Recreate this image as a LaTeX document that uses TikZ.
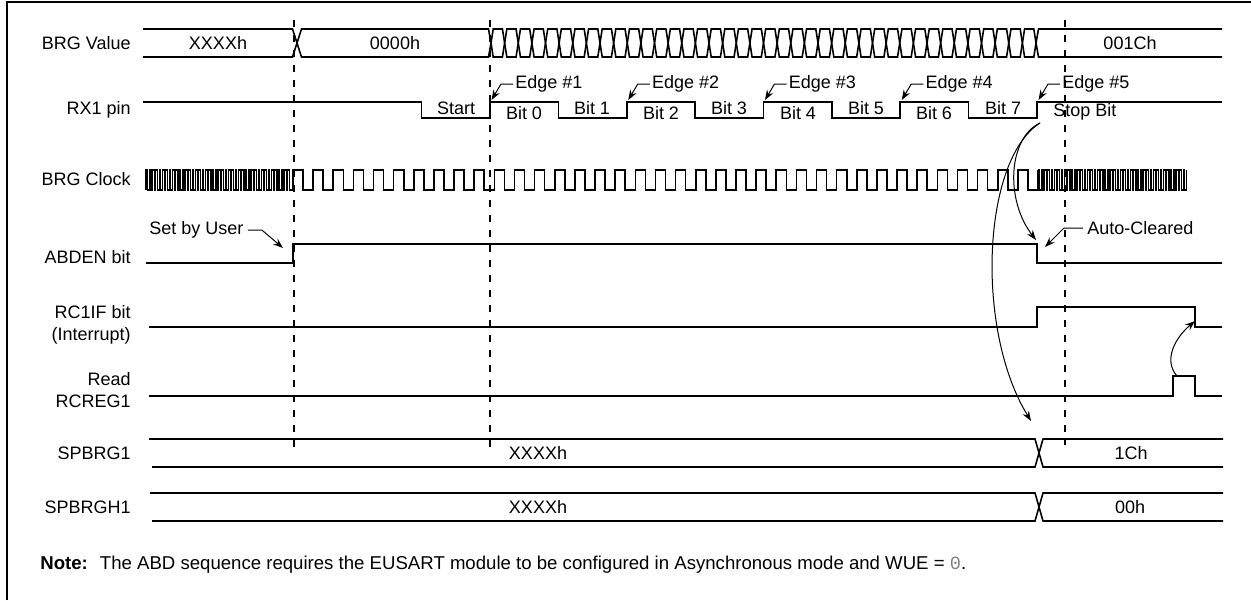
\documentclass[tikz,border=0pt]{standalone}
\usepackage{fontspec}
\setmainfont{Liberation Sans}
\newfontfamily\monofont{Liberation Mono}
\usetikzlibrary{arrows.meta}
\begin{document}
\begin{tikzpicture}[x=0.5pt,y=-0.5pt,
  sig/.style={line width=0.8pt, line join=miter},
  fastclk/.style={line width=0.55pt},
  vline/.style={line width=0.9pt, dash pattern=on 3.5pt off 4pt},
  lbl/.style={font=\fontsize{9}{11}\selectfont, inner sep=0pt},
  rlbl/.style={lbl, anchor=east, align=right},
  wlbl/.style={lbl, anchor=west},
  arr/.style={line width=0.5pt, -{Stealth[length=5pt,width=3.6pt]}},
]
\useasboundingbox (0,0) rectangle (1251,600);
% frame
\draw[line width=1pt] (7,600) -- (7,2) -- (1251,2);

% row labels
\node[rlbl] (lBRG) at (131,43) {BRG Value};
\node[rlbl] (lRX) at (131,110) {RX1 pin};
\node[rlbl] (lCLK) at (131,179) {BRG Clock};
\node[rlbl] (lABD) at (131,257) {ABDEN bit};
\node[rlbl] (lRC) at (131,325) {RC1IF bit\\(Interrupt)};
\node[rlbl] (lRD) at (131,390) {Read\\RCREG1};
\node[rlbl] (lSP) at (131,453) {SPBRG1};
\node[rlbl] (lSPH) at (131,507) {SPBRGH1};

% dashed reference lines
\draw[vline] (294,20) -- (294,453);
\draw[vline] (490,20) -- (490,453);
\draw[vline] (1065,20) -- (1065,445);

% BRG Value bus
\draw[sig] (143,29) -- (292.5,29) -- (297,43) -- (292.5,57) -- (143,57);
\draw[sig] (297,43) -- (301.5,29) -- (488.5,29) -- (491,43) -- (488.5,57) -- (301.5,57) -- cycle;
\foreach \i in {0,...,39} {
  \pgfmathsetmacro\ca{491+13.625*\i}
  \pgfmathsetmacro\cb{\ca+13.625}
  \draw[sig] (\ca,43) -- (\ca+2.2,29) -- (\cb-2.2,29) -- (\cb,43) -- (\cb-2.2,57) -- (\ca+2.2,57) -- cycle;
}
\draw[sig] (1222,29) -- (1038.5,29) -- (1036,43) -- (1038.5,57) -- (1222,57);
\node[lbl] (vX) at (218,43) {XXXXh};
\node[lbl] (vZ) at (395,43) {0000h};
\node[lbl] (v1C) at (1130,43) {001Ch};

% RX1 pin
\draw[sig] (143,102) -- (421.6,102) -- (421.6,118) -- (490,118) -- (490,102)
  -- (558.4,102) -- (558.4,118) -- (626.75,118) -- (626.75,102)
  -- (695.1,102) -- (695.1,118) -- (763.5,118) -- (763.5,102)
  -- (831.9,102) -- (831.9,118) -- (900.25,118) -- (900.25,102)
  -- (968.6,102) -- (968.6,118) -- (1037,118) -- (1037,102) -- (1222,102);
\node[lbl] (bS) at (456,108) {Start};
\node[lbl] (b0) at (524,113) {Bit 0};
\node[lbl] (b1) at (592,108) {Bit 1};
\node[lbl] (b2) at (661,113) {Bit 2};
\node[lbl] (b3) at (729,108) {Bit 3};
\node[lbl] (b4) at (798,113) {Bit 4};
\node[lbl] (b5) at (866,108) {Bit 5};
\node[lbl] (b6) at (934,113) {Bit 6};
\node[lbl] (b7) at (1003,108) {Bit 7};
\node[wlbl] (bstop) at (1053,112) {Stop Bit};

% edge labels and arrows
\node[wlbl] (ed1) at (515,84) {Edge \#1};
\node[wlbl] (ed2) at (651.75,84) {Edge \#2};
\node[wlbl] (ed3) at (788.5,84) {Edge \#3};
\node[wlbl] (ed4) at (925.25,84) {Edge \#4};
\node[wlbl] (ed5) at (1062,84) {Edge \#5};
\coordinate (t1) at (491.5,100);
\coordinate (t2) at (628.25,100);
\coordinate (t3) at (765,100);
\coordinate (t4) at (901.75,100);
\coordinate (t5) at (1038.5,100);
\foreach \k in {1,...,5} {
  \draw[arr] ([xshift=-1pt]ed\k.west) -- ++(-12,0) -- (t\k);
}

% BRG Clock
\draw[fastclk] (146,190) \foreach \i in {1,...,44} { -- ++(0,-20) -- ++(1.65,0) -- ++(0,20) -- ++(1.65,0) } -- (293,190);
\draw[sig] (293,190) -- (293,170) \foreach \i in {1,...,37} { -- ++(10.0675,0) -- ++(0,20) -- ++(10.0675,0) -- ++(0,-20) };
\draw[fastclk] (1038,170) \foreach \i in {1,...,45} { -- ++(1.65,0) -- ++(0,20) -- ++(1.65,0) -- ++(0,-20) };

% ABDEN bit
\draw[sig] (146,263) -- (293,263) -- (293,244) -- (1037,244) -- (1037,263) -- (1222,263);
\node[wlbl] (sbu) at (149,230) {Set by User};
\coordinate (tSBU) at (283,248);
\draw[arr] ([xshift=2pt]sbu.east) -- ++(14,0) -- (tSBU);
\node[wlbl] (ac) at (1087,228) {Auto-Cleared};
\coordinate (tAC) at (1045,247);
\draw[arr] ([xshift=-2pt]ac.west) -- ++(-19,0) -- (tAC);

% RC1IF bit
\draw[sig] (149,327) -- (1037,327) -- (1037,307) -- (1195,307) -- (1195,327) -- (1222,327);
% Read RCREG1
\draw[sig] (149,396) -- (1173,396) -- (1173,376) -- (1195,376) -- (1195,396) -- (1222,396);

% curved arrows
\coordinate (cs) at (1040,123);
\coordinate (tAB) at (1036,240);
\coordinate (tSP) at (1031,421);
\draw[arr] (cs) .. controls (1008,138) and (1005,200) .. (tAB);
\draw[arr] (cs) .. controls (982,160) and (975,330) .. (tSP);
\coordinate (rs) at (1177,376);
\coordinate (tRC) at (1195,321);
\draw[arr] (rs) .. controls (1163,360) and (1175,338) .. (tRC);

% SPBRG1
\draw[sig] (149,439) -- (1035,439) -- (1043,467) -- (1223,467);
\draw[sig] (152,467) -- (1035,467) -- (1043,439) -- (1223,439);
\node[lbl] (sX) at (538,453) {XXXXh};
\node[lbl] (s1C) at (1131,453) {1Ch};
% SPBRGH1
\draw[sig] (150,493) -- (1035,493) -- (1043,521) -- (1223,521);
\draw[sig] (152,521) -- (1035,521) -- (1043,493) -- (1223,493);
\node[lbl] (hX) at (538,507) {XXXXh};
\node[lbl] (h00) at (1130,507) {00h};

% note
\node[wlbl, font=\fontsize{9.3}{11}\selectfont] (note) at (40,565) {\textbf{Note:}\hspace{6pt}The ABD sequence requires the EUSART module to be configured in Asynchronous mode and WUE = {\monofont\color{gray}0}.};
\end{tikzpicture}
\end{document}
